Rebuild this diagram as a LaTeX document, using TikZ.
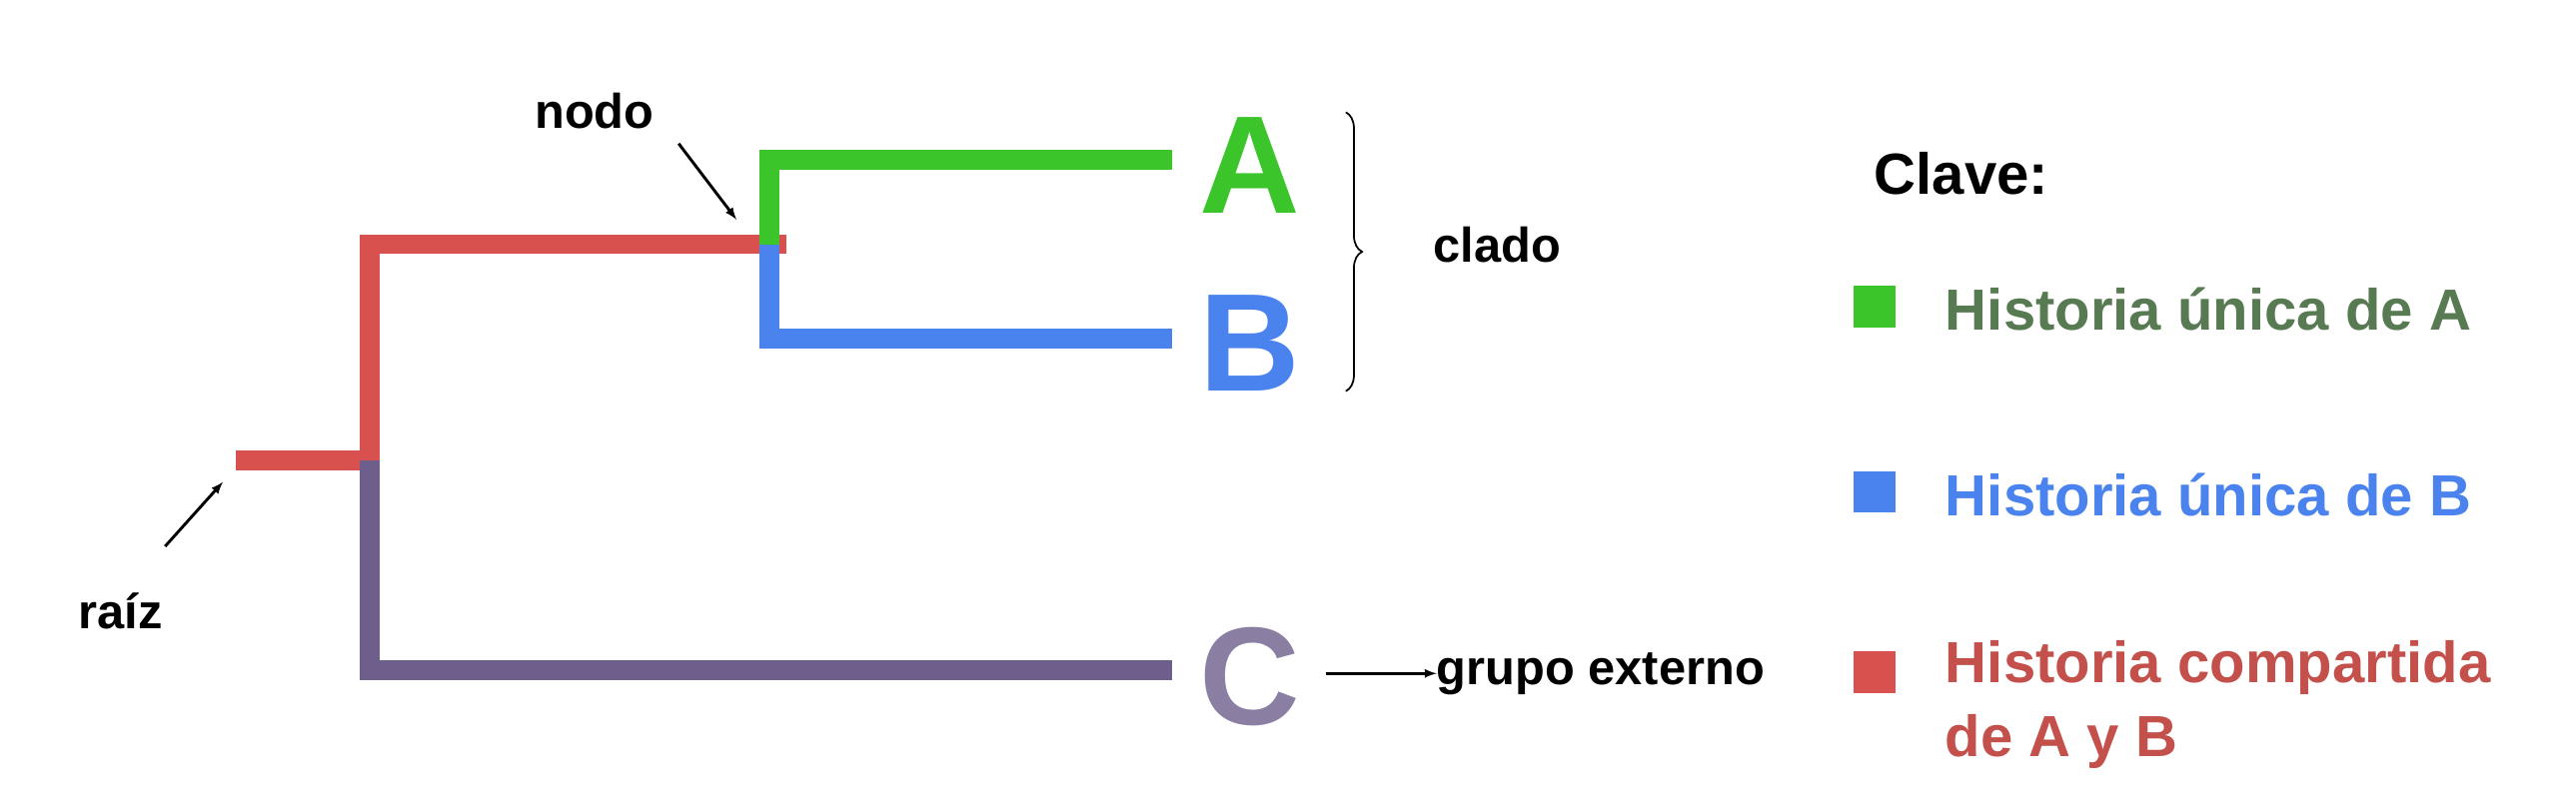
\documentclass[tikz,border=0pt]{standalone}
\usepackage{fontspec}
\setmainfont{Liberation Sans}
\usetikzlibrary{decorations.pathreplacing}
\definecolor{cg}{HTML}{3CC52A}
\definecolor{cb}{HTML}{4A82EE}
\definecolor{cr}{HTML}{D9514F}
\definecolor{cp}{HTML}{6E5E8C}
\definecolor{tg}{HTML}{587A52}
\definecolor{tr}{HTML}{C4504C}
\begin{document}
\begin{tikzpicture}[x=0.05cm,y=-0.05cm,
  br/.style={line width=17pt},
  lab/.style={font=\fontsize{42}{50}\selectfont\bfseries,inner sep=0},
  leg/.style={font=\fontsize{50}{64}\selectfont\bfseries,inner sep=0,anchor=west,align=left},
  tip/.style={font=\fontsize{120}{120}\selectfont\bfseries,inner sep=0},
  arr/.style={-latex,line width=2.5pt},
  sq/.style={minimum width=36pt,minimum height=36pt,inner sep=0}]
\useasboundingbox (0,0) rectangle (1560,489);
% branches
\draw[br,cr] (143,279) -- (224,279);
\draw[br,cr,line cap=rect] (224,279) -- (224,148) -- (470,148);
\draw[br,cp] (224,279) -- (224,406) -- (710,406);
\draw[br,cg] (466,148) -- (466,97) -- (710,97);
\draw[br,cb] (466,148) -- (466,205) -- (710,205);
% tips
\node[tip,text=cg] (A) at (757,100) {A};
\node[tip,text=cb] (B) at (757,208) {B};
\node[tip,text=cp!80] (C) at (757,410) {C};
% labels
\node[lab] (nodo) at (360,67) {nodo};
\coordinate (nodoT) at (446,133);
\draw[arr] (411,87) -- (nodoT);
\node[lab] (raiz) at (73,370) {raíz};
\coordinate (raizT) at (135,292);
\draw[arr] (100,331) -- (raizT);
\node[lab,anchor=west] (ext) at (870,408) {grupo externo};
\draw[arr] (803,408) -- (ext.west);
\draw[decorate,decoration={brace,amplitude=14pt},line width=1.5pt] (815,68) -- (815,237);
\node[lab,anchor=west] (clado) at (868,148) {clado};
% legend
\node[leg,anchor=west] (clave) at (1135,105) {Clave:};
\node[sq,fill=cg] (s1) at (1135,186) {};
\node[sq,fill=cb] (s2) at (1135,298) {};
\node[sq,fill=cr] (s3) at (1135,407) {};
\node[leg,text=tg] (l1) at (1178,187) {Historia única de A};
\node[leg,text=cb] (l2) at (1178,300) {Historia única de B};
\node[leg,text=tr,anchor=north west] (l3) at (1178,388) {Historia compartida\\de A y B};
\end{tikzpicture}
\end{document}
